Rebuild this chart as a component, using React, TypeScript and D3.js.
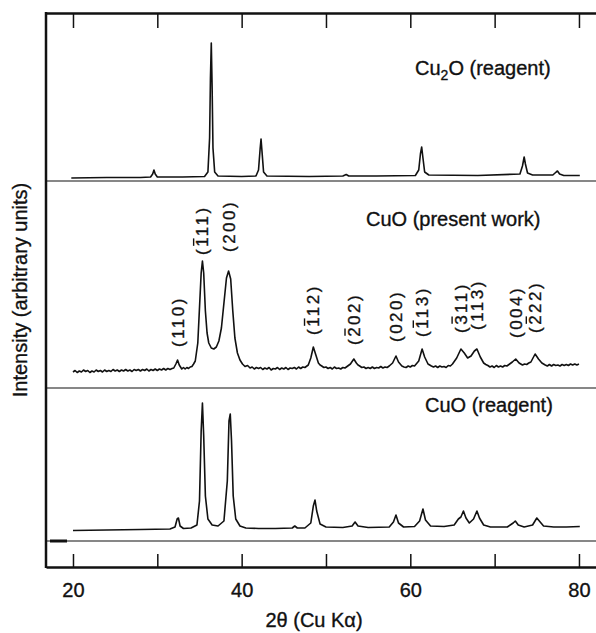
import React, { useEffect, useRef } from "react";
import * as d3 from "d3";

// x axis (2 theta, degrees)
const xTicks = [20, 30, 40, 50, 60, 70, 80];
const xTickLabels = ["20", "", "40", "", "60", "", "80"];

// [2theta, intensity]
const cu2oReagent: [number, number][] = [
  [19.8, 0], [24, 0.5], [28, 0.5], [29.2, 1], [29.45, 4], [29.6, 8], [29.75, 4], [30, 1],
  [33, 1], [35.6, 1.5], [36.0, 6], [36.2, 40], [36.3, 100], [36.4, 135], [36.5, 90],
  [36.6, 30], [36.8, 6], [37.2, 2], [40, 1.5], [41.7, 2], [42.0, 8], [42.2, 30],
  [42.3, 39], [42.4, 28], [42.6, 6], [43, 2], [48, 1.5], [52, 2], [52.4, 3.5],
  [52.7, 2], [56, 2], [60.6, 2.5], [61.0, 8], [61.2, 24], [61.35, 31], [61.5, 20],
  [61.7, 6], [62.2, 3], [68, 2.5], [73.0, 4], [73.3, 12], [73.5, 21], [73.65, 14],
  [73.9, 5], [74.5, 3], [76.9, 3], [77.3, 6], [77.45, 7], [77.7, 4], [78.2, 2.5], [80.1, 2.5],
];

// CuO from the present work (noisy)
const cuoPresent: [number, number][] = [
  [20, 1], [20.25, 2.5], [20.5, 0.5], [20.75, 2], [21, 1], [21.25, 3], [21.5, 1.5], [21.75, 2.5],
  [22, 0.5], [22.25, 2], [22.5, 1], [22.75, 3], [23, 1.5], [23.25, 2.5], [23.5, 1], [23.75, 3],
  [24, 1.5], [24.25, 2.5], [24.5, 1.5], [24.75, 3.5], [25, 2], [25.25, 3], [25.5, 1.5], [25.75, 3],
  [26, 2], [26.25, 3.5], [26.5, 2], [26.75, 3], [27, 1.5], [27.25, 3.5], [27.5, 2.5], [27.75, 3.5],
  [28, 2], [28.25, 3.5], [28.5, 2.5], [28.75, 4], [29, 2], [29.25, 3.5], [29.5, 2.5], [29.75, 4],
  [30, 2.5], [30.25, 4], [30.5, 3], [30.75, 4.5], [31, 3], [31.25, 4.5], [31.5, 3.5], [31.75, 4.5],
  [31.95, 5], [32.2, 9], [32.4, 13], [32.6, 8], [32.9, 4], [33.1, 5.5], [33.3, 4], [33.5, 5.5],
  [33.7, 4.5], [33.9, 6], [34.1, 6.5], [34.3, 9], [34.5, 12], [34.8, 30], [35.0, 65], [35.2, 100],
  [35.35, 112], [35.5, 100], [35.7, 62], [35.9, 40], [36.1, 30], [36.4, 25], [36.7, 24], [37.0, 26],
  [37.3, 32], [37.6, 45], [37.9, 70], [38.2, 95], [38.45, 102], [38.7, 94], [38.95, 62], [39.2, 35],
  [39.5, 20], [39.8, 13], [40.1, 9], [40.4, 6.5], [40.7, 7.5], [41, 5], [41.25, 6], [41.5, 4],
  [41.75, 5.5], [42, 4.5], [42.25, 5.5], [42.5, 3.5], [42.75, 5], [43, 4], [43.25, 5.5], [43.5, 3],
  [43.75, 4.5], [44, 4], [44.25, 5.5], [44.5, 3.5], [44.75, 5], [45, 4], [45.25, 5.5], [45.5, 3.5],
  [45.75, 5], [46, 4.5], [46.25, 5.5], [46.5, 4], [46.75, 6], [47, 4.5], [47.25, 6], [47.5, 5.5],
  [47.9, 8], [48.2, 15], [48.5, 26], [48.8, 18], [49.1, 10], [49.3, 8], [49.5, 7], [49.75, 5.5],
  [50, 6], [50.25, 4.5], [50.5, 5.5], [50.75, 4], [51, 6], [51.25, 4.5], [51.5, 5], [51.75, 4],
  [52, 5.5], [52.25, 5], [52.5, 6.5], [52.9, 9], [53.3, 14], [53.6, 10], [53.8, 8], [54, 7],
  [54.25, 5.5], [54.5, 6], [54.75, 4.5], [55, 5.5], [55.25, 4.5], [55.5, 6], [55.75, 4.5],
  [56, 5.5], [56.25, 5], [56.5, 6.5], [56.75, 5], [57, 6], [57.25, 5.5], [57.5, 7], [57.9, 10],
  [58.3, 17], [58.6, 11], [59, 7], [59.25, 6], [59.5, 5.5], [59.75, 7], [60, 6], [60.25, 7.5],
  [60.5, 7], [61, 12], [61.4, 24], [61.7, 16], [62.1, 9], [62.3, 8], [62.5, 7], [62.75, 6],
  [63, 7], [63.25, 5.5], [63.5, 7], [63.75, 6], [64, 6.5], [64.25, 5.5], [64.5, 7.5], [64.75, 7],
  [65, 9], [65.5, 15], [66.0, 24], [66.4, 20], [66.8, 15], [67.2, 17], [67.6, 22], [67.9, 24],
  [68.3, 16], [68.7, 10], [68.95, 8.5], [69.2, 7.5], [69.45, 6], [69.7, 7], [69.95, 5.5],
  [70.2, 7.5], [70.45, 6], [70.7, 7], [70.95, 6], [71.2, 7.5], [71.45, 7], [71.7, 8.5], [72.1, 11],
  [72.5, 14], [72.9, 10], [73.1, 9], [73.3, 8], [73.55, 9], [73.8, 8.5], [74.05, 10], [74.3, 11],
  [74.8, 19], [75.2, 14], [75.6, 10], [75.8, 9], [76, 8], [76.25, 7], [76.5, 8.5], [76.75, 7],
  [77, 8.5], [77.25, 7.5], [77.5, 8], [77.75, 7], [78, 8.5], [78.25, 7.5], [78.5, 8.5],
  [78.75, 7.5], [79, 9], [79.25, 8], [79.5, 9], [79.75, 8], [80, 9],
];

// CuO reagent
const cuoReagent: [number, number][] = [
  [20, 0.5], [24, 1], [28, 1.5], [31.5, 2], [32.1, 4], [32.35, 12], [32.5, 13], [32.7, 5],
  [33.1, 2.5], [34, 3], [34.7, 6], [35.0, 30], [35.2, 100], [35.35, 128], [35.5, 95],
  [35.7, 35], [36.0, 12], [36.5, 6], [37.2, 5], [37.9, 10], [38.3, 50], [38.5, 110],
  [38.65, 117], [38.8, 90], [39.0, 35], [39.3, 12], [39.8, 5], [40.5, 3], [42, 2.5],
  [44, 2.5], [46, 3], [46.3, 5], [46.6, 3], [47.5, 3], [48.2, 8], [48.5, 25], [48.7, 31],
  [48.9, 20], [49.3, 7], [50, 4], [52, 3.5], [53.1, 5], [53.45, 9], [53.8, 5], [55, 3.5],
  [57.5, 4], [58.0, 9], [58.3, 16], [58.6, 8], [59.2, 4], [60.5, 4.5], [61.1, 10],
  [61.5, 22], [61.8, 11], [62.4, 5], [64, 4.5], [65.2, 6], [65.7, 12], [66.0, 14],
  [66.3, 20], [66.6, 13], [67.0, 8], [67.5, 12], [67.9, 20], [68.2, 13], [68.7, 6],
  [69.5, 4], [71.5, 4], [72.2, 8], [72.45, 10], [72.8, 6], [73.5, 4], [74.5, 6], [75.0, 13],
  [75.3, 10], [75.8, 5], [77, 4], [78.5, 4], [80.1, 4.5],
];

// Miller indices of the present-work peaks; hklBar = index of the digit with the bar
const hklLabels = ["(110)", "(111)", "(200)", "(112)", "(202)", "(020)", "(113)", "(311)", "(113)", "(004)", "(222)"];
const hklBar = [-1, 0, -1, 0, 0, -1, 0, 0, -1, -1, 0];
const hklTheta = [32.4, 35.35, 38.45, 48.5, 53.3, 58.3, 61.4, 66.0, 67.9, 72.5, 74.8];

const FONT = "'Liberation Sans', Arial, Helvetica, sans-serif";
const INK = "#111";

export default function App() {
  const ref = useRef<SVGSVGElement>(null);

  useEffect(() => {
    const W = 596, H = 633;
    const left = 46, top = 13, bottom = 567;
    const seps = [181, 388, 541];
    const baseY = [178, 373, 531];

    const svg = d3.select(ref.current);
    svg.selectAll("*").remove();
    svg.attr("width", W).attr("height", H);

    const x = d3.scaleLinear().domain([16.8, 82.02]).range([left, W]);
    const ys = baseY.map((b) => d3.scaleLinear().domain([0, 140]).range([b, b - 140]));

    // scanned text looks a bit heavy, so give it a hairline stroke
    const ink = (sel: any) => sel.attr("fill", INK).attr("stroke", INK).attr("stroke-width", 0.35);

    // bottom axis with inward ticks
    const gb = svg.append("g")
      .attr("transform", `translate(0,${bottom})`)
      .call(
        d3.axisBottom(x)
          .tickValues(xTicks)
          .tickSize(-13)
          .tickSizeOuter(0)
          .tickPadding(16)
          .tickFormat((d, i) => xTickLabels[i])
      );
    gb.attr("font-size", 20).attr("font-family", FONT);
    gb.select(".domain").attr("stroke-width", 2.5).attr("stroke", INK);
    gb.selectAll(".tick line").attr("stroke-width", 1.5).attr("stroke", INK);
    ink(gb.selectAll(".tick text"));

    const gt = svg.append("g")
      .attr("transform", `translate(0,${top})`)
      .call(d3.axisTop(x).tickValues(xTicks).tickSize(-15).tickSizeOuter(0).tickFormat(() => ""));
    gt.select(".domain").attr("stroke-width", 2.5).attr("stroke", INK);
    gt.selectAll(".tick line").attr("stroke-width", 1.5).attr("stroke", INK);

    // left frame
    svg.append("line")
      .attr("x1", left).attr("x2", left).attr("y1", top - 1).attr("y2", bottom + 1)
      .attr("stroke", INK).attr("stroke-width", 2.5);

    // panel separators
    svg.selectAll(".sep").data(seps).enter().append("line")
      .attr("class", "sep")
      .attr("x1", left).attr("x2", W)
      .attr("y1", (d) => d).attr("y2", (d) => d)
      .attr("stroke", INK).attr("stroke-width", 1.2);
    svg.append("line")
      .attr("x1", left + 4).attr("x2", left + 21).attr("y1", seps[2]).attr("y2", seps[2])
      .attr("stroke", INK).attr("stroke-width", 3);

    // traces
    const traces = [cu2oReagent, cuoPresent, cuoReagent];
    traces.forEach((pts, i) => {
      const line = d3.line<[number, number]>()
        .x((d) => x(d[0]))
        .y((d) => ys[i](d[1]));
      svg.append("path")
        .datum(pts)
        .attr("d", line)
        .attr("fill", "none")
        .attr("stroke", INK)
        .attr("stroke-width", 1.6)
        .attr("stroke-linejoin", "round");
    });

    // panel titles
    const t1 = ink(svg.append("text").attr("x", 415).attr("y", 75)
      .attr("font-size", 20).attr("font-family", FONT));
    t1.append("tspan").text("Cu");
    t1.append("tspan").text("2").attr("font-size", 14).attr("dy", 5);
    t1.append("tspan").text("O (reagent)").attr("dy", -5);

    ink(svg.append("text").attr("x", 366).attr("y", 226)
      .attr("font-size", 20).attr("font-family", FONT))
      .text("CuO (present work)");
    ink(svg.append("text").attr("x", 425).attr("y", 412)
      .attr("font-size", 20).attr("font-family", FONT))
      .text("CuO (reagent)");

    // hkl labels over the present-work peaks
    const fs = 17, ls = 2.5;
    const parenW = 0.333 * fs, digitW = 0.556 * fs;
    const gaps = [13, 6, 19, 12, 14, 14, 12, 16, 19, 21, 21];
    hklLabels.forEach((lab, i) => {
      const th = hklTheta[i];
      const near = cuoPresent.reduce((a, b) => (Math.abs(b[0] - th) < Math.abs(a[0] - th) ? b : a));
      const px = x(th);
      const py = ys[1](near[1]) - gaps[i];
      const g = svg.append("g").attr("transform", `translate(${px},${py}) rotate(-90)`);
      ink(g.append("text")
        .attr("x", 0).attr("y", 6)
        .attr("font-size", fs).attr("font-family", FONT)
        .attr("letter-spacing", ls))
        .text(lab);
      if (hklBar[i] >= 0) {
        const x0 = parenW + ls + hklBar[i] * (digitW + ls);
        g.append("line")
          .attr("x1", x0 + 1).attr("x2", x0 + digitW - 1)
          .attr("y1", -8.8).attr("y2", -8.8)
          .attr("stroke", INK).attr("stroke-width", 1.4);
      }
    });

    // axis titles
    ink(svg.append("text")
      .attr("transform", "translate(27,290) rotate(-90)")
      .attr("text-anchor", "middle")
      .attr("font-size", 20).attr("font-family", FONT))
      .text("Intensity (arbitrary units)");
    ink(svg.append("text")
      .attr("x", 314).attr("y", 627)
      .attr("text-anchor", "middle")
      .attr("font-size", 20).attr("font-family", FONT))
      .text("2θ (Cu Kα)");
  }, []);

  return (
    <svg ref={ref} style={{ position: "absolute", left: 0, top: 0, background: "#fff" }} />
  );
}
